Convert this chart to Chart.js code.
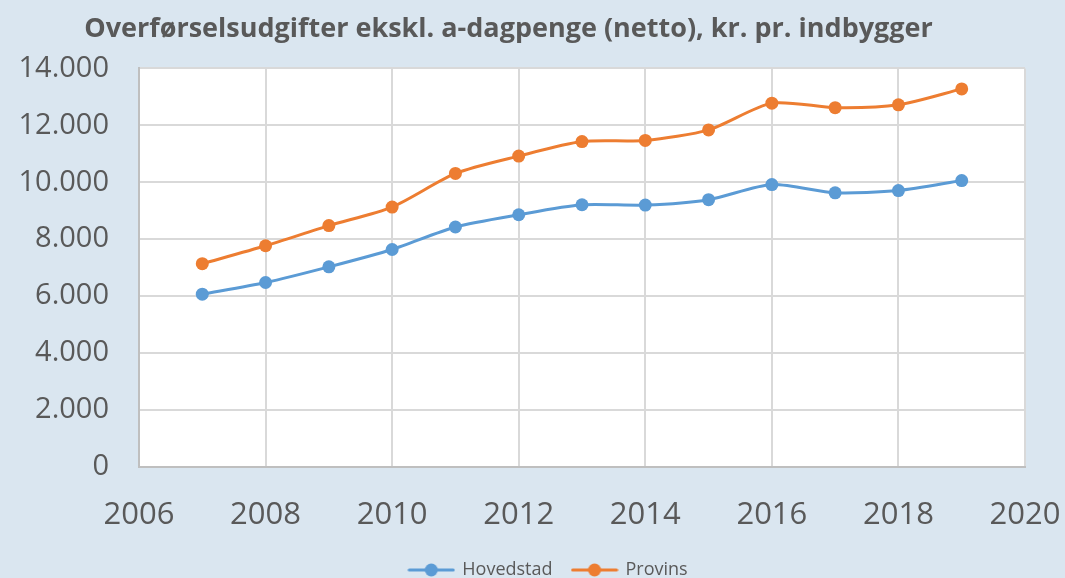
<!DOCTYPE html>
<html>
<head>
<meta charset="utf-8">
<script src="https://cdn.jsdelivr.net/npm/chart.js@4.4.1/dist/chart.umd.min.js"></script>
<style>
  html, body { margin: 0; padding: 0; background: #dae6f0; }
  #wrap { width: 1065px; height: 578px; position: relative; }
</style>
</head>
<body>
<div id="wrap"><canvas id="c" width="1065" height="578"></canvas></div>
<script>
const years = [2007, 2008, 2009, 2010, 2011, 2012, 2013, 2014, 2015, 2016, 2017, 2018, 2019];
const hovedstad = [6070, 6480, 7030, 7640, 8430, 8860, 9210, 9200, 9390, 9920, 9630, 9710, 10060];
const provins = [7140, 7770, 8480, 9130, 10310, 10920, 11430, 11470, 11840, 12780, 12620, 12720, 13280];
const seriesNames = ['Hovedstad', 'Provins'];
const titleText = 'Overførselsudgifter ekskl. a-dagpenge (netto), kr. pr. indbygger';
const xMin = 2006, xMax = 2020, xStep = 2;
const yMin = 0, yMax = 14000, yStep = 2000;

const BLUE = '#5b9bd5', ORANGE = '#ed7d31', TEXT = '#595959';

function legendIcon(color) {
  const c = document.createElement('canvas');
  c.width = 48; c.height = 16;
  const g = c.getContext('2d');
  g.strokeStyle = color; g.lineWidth = 3; g.lineCap = 'round';
  g.beginPath(); g.moveTo(2, 8); g.lineTo(46, 8); g.stroke();
  g.fillStyle = color;
  g.beginPath(); g.arc(24, 8, 6.5, 0, Math.PI * 2); g.fill();
  return c;
}

function fmt(v) {
  return String(v).replace(/\B(?=(\d{3})+(?!\d))/g, '.');
}

const shiftPlugin = {
  id: 'shift',
  afterLayout(chart) {
    if (chart.titleBlock) { chart.titleBlock.left -= 24; chart.titleBlock.right -= 24; }
    if (chart.legend) {
      chart.legend.left += 16; chart.legend.right += 16;
      const dy = 11;
      chart.legend.top += dy; chart.legend.bottom += dy;
    }
  }
};

new Chart(document.getElementById('c'), {
  type: 'line',
  data: {
    datasets: [
      { label: seriesNames[0], data: years.map((y, i) => ({ x: y, y: hovedstad[i] })), borderColor: BLUE, backgroundColor: BLUE },
      { label: seriesNames[1], data: years.map((y, i) => ({ x: y, y: provins[i] })), borderColor: ORANGE, backgroundColor: ORANGE }
    ].map(d => Object.assign(d, {
      borderWidth: 3, tension: 0.25, pointRadius: 6.5, pointHoverRadius: 6.5,
      pointBorderWidth: 0, pointBackgroundColor: d.borderColor, fill: false
    }))
  },
  plugins: [shiftPlugin, {
    id: 'bg',
    beforeDraw(chart) {
      const { ctx, chartArea: a } = chart;
      ctx.save();
      ctx.fillStyle = '#dae6f0';
      ctx.fillRect(0, 0, chart.width, chart.height);
      ctx.fillStyle = '#ffffff';
      ctx.fillRect(a.left, a.top, a.right - a.left, a.bottom - a.top);
      ctx.restore();
    }
  }],
  options: {
    responsive: false,
    animation: false,
    devicePixelRatio: 1,
    layout: { padding: { left: 0, right: 0, top: 0, bottom: 0 } },
    plugins: {
      title: {
        display: true, text: titleText, color: TEXT,
        font: { family: 'Open Sans', size: 27, weight: 'bold' },
        padding: { top: 13, bottom: 23 }
      },
      legend: {
        position: 'bottom',
        labels: {
          usePointStyle: true, pointStyleWidth: 44, padding: 20,
          color: TEXT, font: { family: 'Open Sans', size: 18 },
          generateLabels(chart) {
            return chart.data.datasets.map((d, i) => ({
              text: d.label, pointStyle: legendIcon(d.borderColor), fillStyle: d.borderColor,
              strokeStyle: d.borderColor, lineWidth: 0, datasetIndex: i, hidden: false, fontColor: TEXT
            }));
          }
        }
      },
      tooltip: { enabled: false }
    },
    scales: {
      x: {
        type: 'linear', min: xMin, max: xMax,
        ticks: { stepSize: xStep, color: TEXT, font: { family: 'Open Sans', size: 31 }, padding: 30, callback: v => String(v), maxRotation: 0, autoSkip: false },
        grid: { color: '#d9d9d9', lineWidth: 2, drawTicks: false },
        border: { color: '#bfbfbf', width: 2 },
        afterFit(s) { s.height = 63; s.paddingRight = 40; s.paddingLeft = 0; }
      },
      y: {
        min: yMin, max: yMax,
        ticks: { stepSize: yStep, color: TEXT, font: { family: 'Open Sans', size: 29 }, padding: 30, callback: v => fmt(v) },
        grid: { color: '#d9d9d9', lineWidth: 2, drawTicks: false },
        border: { color: '#bfbfbf', width: 2 },
        afterFit(s) { s.width = 139; }
      }
    }
  }
});
</script>
</body>
</html>
